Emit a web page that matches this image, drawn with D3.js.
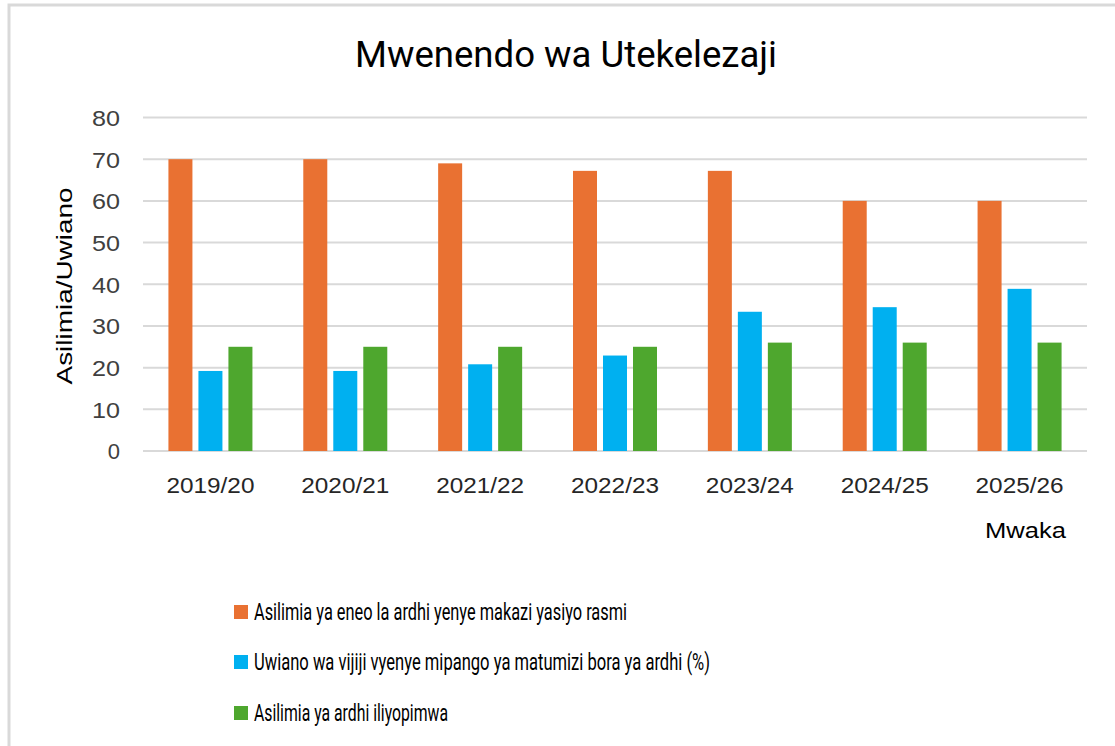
<!DOCTYPE html>
<html>
<head>
<meta charset="utf-8">
<script src="https://cdn.jsdelivr.net/npm/d3@7/dist/d3.min.js"></script>
<style>
  html, body { margin: 0; padding: 0; background: #fff; }
  svg { display: block; }
</style>
</head>
<body>
<svg id="chart" width="1115" height="746"></svg>
<script>
const categories = ["2019/20", "2020/21", "2021/22", "2022/23", "2023/24", "2024/25", "2025/26"];
const seriesNames = [
  "Asilimia ya eneo la ardhi yenye makazi yasiyo rasmi",
  "Uwiano wa vijiji vyenye mipango ya matumizi bora ya ardhi (%)",
  "Asilimia ya ardhi iliyopimwa"
];
const informalSettlement = [70, 70, 69, 67.2, 67.2, 60, 60];
const villagesWithPlans = [19.2, 19.2, 20.8, 22.9, 33.4, 34.5, 38.9];
const landSurveyed = [25, 25, 25, 25, 26, 26, 26];
const yTicks = [0, 10, 20, 30, 40, 50, 60, 70, 80];
const titleText = "Mwenendo wa Utekelezaji";
const yTitle = "Asilimia/Uwiano";
const xTitle = "Mwaka";

const colors = ["#E97132", "#00B0F0", "#4EA72E"];
const seriesValues = [informalSettlement, villagesWithPlans, landSurveyed];

const svg = d3.select("#chart");
const axisFont = "'Liberation Sans', Arial, sans-serif";
const narrowFont = "'Liberation Sans Narrow', 'Arial Narrow', 'Roboto', sans-serif";

// frame border (top and left visible)
svg.append("rect")
  .attr("x", 9).attr("y", 5)
  .attr("width", 1200).attr("height", 900)
  .attr("fill", "none").attr("stroke", "#d9d9d9").attr("stroke-width", 3);

const plot = { left: 143, right: 1087, top: 117.5, bottom: 451 };

const x = d3.scaleBand().domain(categories).range([plot.left, plot.right]).paddingInner(0).paddingOuter(0);
const y = d3.scaleLinear().domain([0, 80]).range([plot.bottom, plot.top]);

// gridlines
svg.append("g")
  .selectAll("line")
  .data(yTicks)
  .join("line")
  .attr("x1", plot.left).attr("x2", plot.right)
  .attr("y1", d => y(d)).attr("y2", d => y(d))
  .attr("stroke", "#d9d9d9").attr("stroke-width", 2);

// bars
const barW = 24, step = 30;
const inner = d3.scaleBand().domain(d3.range(3)).range([0, step * 3]);
seriesValues.forEach((vals, si) => {
  svg.append("g")
    .selectAll("rect")
    .data(vals.map((v, i) => ({ cat: categories[i], v })))
    .join("rect")
    .attr("x", d => x(d.cat) + x.bandwidth() / 2 - (step * 3 - (step - barW)) / 2 + inner(si))
    .attr("y", d => y(d.v))
    .attr("width", barW)
    .attr("height", d => y(0) - y(d.v))
    .attr("fill", colors[si]);
});

// y axis
const yAxis = svg.append("g")
  .attr("transform", `translate(${plot.left},0)`)
  .call(d3.axisLeft(y).tickValues(yTicks).tickSize(0).tickPadding(23));
yAxis.select(".domain").remove();
yAxis.selectAll("text")
  .attr("font-family", axisFont).attr("font-size", 22).attr("fill", "#404040")
  .attr("textLength", 28).attr("lengthAdjust", "spacingAndGlyphs")
  .attr("dy", "0.36em");
yAxis.selectAll(".tick").filter(d => d === 0).select("text").attr("textLength", null);

// x axis
const xAxis = svg.append("g")
  .attr("transform", `translate(0,${plot.bottom})`)
  .call(d3.axisBottom(x).tickSize(0).tickPadding(34));
xAxis.select(".domain").remove();
xAxis.selectAll("text")
  .attr("font-family", axisFont).attr("font-size", 22).attr("fill", "#262626")
  .attr("textLength", 88).attr("lengthAdjust", "spacingAndGlyphs")
  .attr("dy", "0.36em");

// title
svg.append("text")
  .attr("x", 566).attr("y", 67)
  .attr("text-anchor", "middle")
  .attr("font-family", narrowFont).attr("font-size", 36).attr("fill", "#000")
  .attr("textLength", 422).attr("lengthAdjust", "spacingAndGlyphs")
  .text(titleText);

// y title
svg.append("text")
  .attr("transform", "translate(72,286) rotate(-90)")
  .attr("text-anchor", "middle")
  .attr("font-family", axisFont).attr("font-size", 22).attr("fill", "#000")
  .attr("textLength", 197).attr("lengthAdjust", "spacingAndGlyphs")
  .text(yTitle);

// x title
svg.append("text")
  .attr("x", 1066).attr("y", 538)
  .attr("text-anchor", "end")
  .attr("font-family", axisFont).attr("font-size", 22).attr("fill", "#000")
  .attr("textLength", 81).attr("lengthAdjust", "spacingAndGlyphs")
  .text(xTitle);

// legend
const legendY = [612, 662, 713];
const legendW = [373, 456, 194];
const lg = svg.append("g");
seriesNames.forEach((name, i) => {
  lg.append("rect")
    .attr("x", 234).attr("y", legendY[i] - 7)
    .attr("width", 14).attr("height", 14)
    .attr("fill", colors[i]);
  lg.append("text")
    .attr("x", 254).attr("y", legendY[i])
    .attr("dy", "0.35em")
    .attr("font-family", narrowFont).attr("font-size", 24).attr("fill", "#000")
    .attr("textLength", legendW[i]).attr("lengthAdjust", "spacingAndGlyphs")
    .text(name);
});
</script>
</body>
</html>
